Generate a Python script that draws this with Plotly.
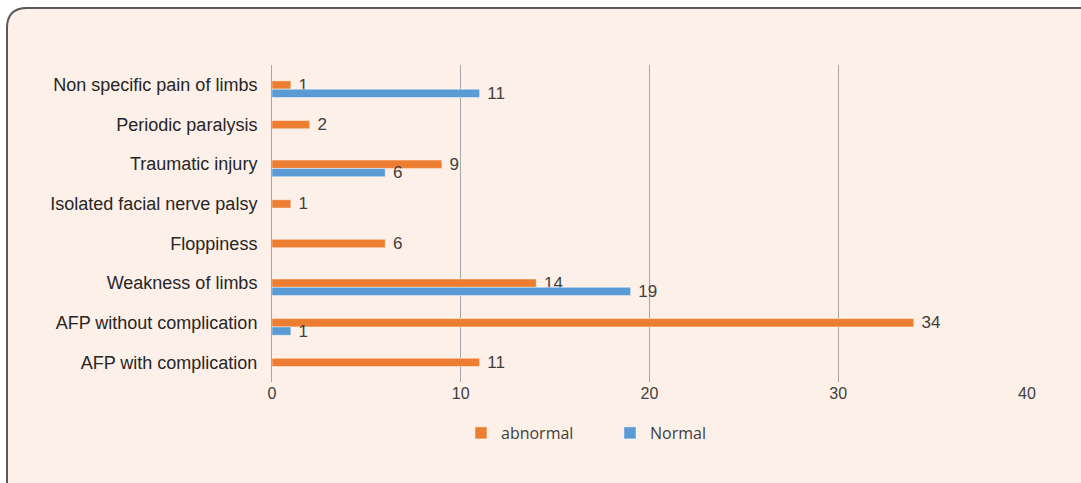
import plotly.graph_objects as go

# Categories listed top to bottom
categories = [
    "Non specific pain of limbs",
    "Periodic paralysis",
    "Traumatic injury",
    "Isolated facial nerve palsy",
    "Floppiness",
    "Weakness of limbs",
    "AFP without complication",
    "AFP with complication",
]
abnormal = [1, 2, 9, 1, 6, 14, 34, 11]
normal = [11, None, 6, None, None, 19, 1, None]
x_ticks = [0, 10, 20, 30, 40]

ORANGE = "#ED7D31"
BLUE = "#5B9BD5"
BG = "#FDF0E8"
TEXT = "#404040"

W, H = 1081, 483
L, R, T, B = 272, 54, 65, 101
pw, ph = W - L - R, H - T - B

BAR_W = 0.21  # bar thickness in category units


def px(x):
    return (x - L) / pw


def py(y):
    return (H - B - y) / ph


def labels(vals):
    return ["" if v is None else " " + str(v) for v in vals]


label_font = dict(family="Liberation Sans, Arial", size=17, color=TEXT)

fig = go.Figure()
fig.add_trace(go.Bar(
    y=categories, x=abnormal, name="abnormal", orientation="h",
    width=BAR_W, offset=-0.1,
    marker=dict(color=ORANGE, line=dict(color="rgba(255,255,255,0.45)", width=1)),
    text=labels(abnormal), textposition="outside", cliponaxis=False,
    constraintext="none", textfont=label_font,
))
fig.add_trace(go.Bar(
    y=categories, x=normal, name="Normal", orientation="h",
    width=BAR_W, offset=-0.1 + BAR_W,
    marker=dict(color=BLUE, line=dict(color="rgba(255,255,255,0.45)", width=1)),
    text=labels(normal), textposition="outside", cliponaxis=False,
    constraintext="none", textfont=label_font,
))

# Rounded frame around the whole chart
r = 20
x0, y0 = 7, 8
x1, y1 = W + 20, H + 20
path = (
    f"M {px(x0)} {py(y1)} L {px(x0)} {py(y0 + r)} "
    f"Q {px(x0)} {py(y0)} {px(x0 + r)} {py(y0)} "
    f"L {px(x1)} {py(y0)} L {px(x1)} {py(y1)} Z"
)

fig.update_layout(
    width=W, height=H,
    margin=dict(l=L, r=R, t=T, b=B),
    paper_bgcolor="white",
    plot_bgcolor="rgba(0,0,0,0)",
    barmode="overlay",
    showlegend=True,
    legend=dict(
        orientation="h", x=px(461), y=py(433), xanchor="left", yanchor="middle",
        font=dict(family="Open Sans, Noto Sans", size=16, color=TEXT),
        entrywidth=104, entrywidthmode="pixels", traceorder="normal",
        bgcolor="rgba(0,0,0,0)",
    ),
    xaxis=dict(
        range=[0, 40], tickvals=x_ticks, showgrid=True, gridcolor="#A6A6A6",
        gridwidth=1, zeroline=False, showline=False, ticks="",
        tickfont=dict(family="Liberation Sans, Arial", size=16, color=TEXT),
    ),
    yaxis=dict(
        autorange="reversed", showline=True, linecolor="#A6A6A6", linewidth=1,
        ticks="", showgrid=False, ticksuffix="  ",
        tickfont=dict(family="Liberation Sans, Arial", size=18, color="#262626"),
    ),
    shapes=[dict(
        type="path", path=path, xref="paper", yref="paper", layer="below",
        fillcolor=BG, line=dict(color="#595959", width=2),
    )],
)

fig.write_html("out.html")
